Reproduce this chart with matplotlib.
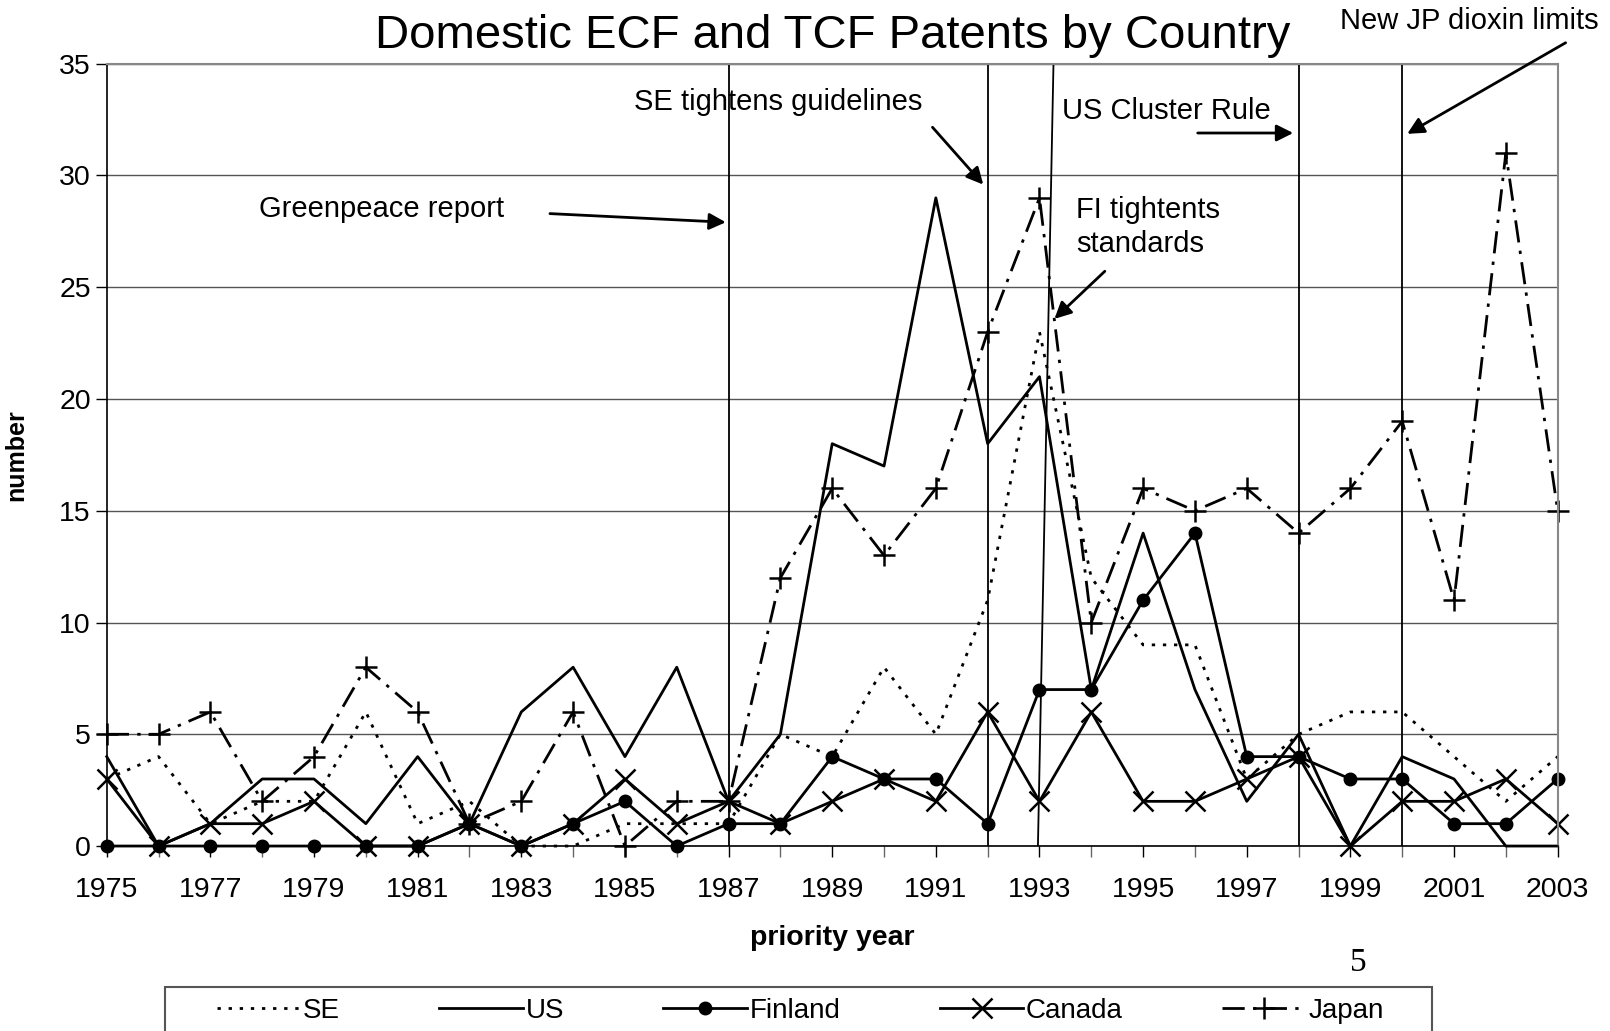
import matplotlib.pyplot as plt
from matplotlib.patches import Rectangle
import numpy as np

plt.rcParams['font.family'] = ['Liberation Sans', 'DejaVu Sans']

years = np.arange(1975, 2004)
se      = [3, 4, 1, 2, 2, 6, 1, 2, 0, 0, 1, 1, 1, 5, 4, 8, 5, 11, 23, 12, 9, 9, 3, 5, 6, 6, 4, 2, 4]
us      = [4, 0, 1, 3, 3, 1, 4, 1, 6, 8, 4, 8, 2, 5, 18, 17, 29, 18, 21, 7, 14, 7, 2, 5, 0, 4, 3, 0, 0]
finland = [0, 0, 0, 0, 0, 0, 0, 1, 0, 1, 2, 0, 1, 1, 4, 3, 3, 1, 7, 7, 11, 14, 4, 4, 3, 3, 1, 1, 3]
canada  = [3, 0, 1, 1, 2, 0, 0, 1, 0, 1, 3, 1, 2, 1, 2, 3, 2, 6, 2, 6, 2, 2, 3, 4, 0, 2, 2, 3, 1]
japan   = [5, 5, 6, 2, 4, 8, 6, 1, 2, 6, 0, 2, 2, 12, 16, 13, 16, 23, 29, 10, 16, 15, 16, 14, 16, 19, 11, 31, 15]

# policy events (vertical lines)
event_years = [1987, 1992, 1998, 2000]
# FI line is drawn a bit slanted in the original
fi_line_x = [1992.97, 1993.27]

fig = plt.figure(figsize=(16.1, 10.31), dpi=100)
ax = fig.add_axes([0.0663, 0.1794, 0.9012, 0.7588])

ax.set_xlim(1975, 2003)
ax.set_ylim(0, 35)
ax.set_yticks(range(0, 36, 5))
ax.set_xticks(range(1975, 2004, 2))
ax.set_xticks(range(1975, 2004), minor=True)
ax.yaxis.grid(True, color='#555555', linewidth=1.0)
ax.set_axisbelow(True)
for s in ['top', 'right']:
    ax.spines[s].set_color('#888888')
    ax.spines[s].set_linewidth(1.5)
ax.spines['left'].set_linewidth(1.2)
ax.spines['bottom'].set_linewidth(1.2)
ax.tick_params(axis='both', labelsize=20.5, direction='out', length=8, width=1)
ax.tick_params(axis='x', which='minor', length=8, width=1, color='#666666')
ax.tick_params(axis='x', pad=14)

lw = 2.0
ax.plot(years, se, color='black', linewidth=lw, linestyle=(0, (1.2, 2.8)), label='SE', clip_on=False)
ax.plot(years, us, color='black', linewidth=lw, label='US', clip_on=False)
ax.plot(years, finland, color='black', linewidth=lw, marker='o', markersize=9, label='Finland', clip_on=False)
ax.plot(years, canada, color='black', linewidth=lw, marker='x', markersize=14, markeredgewidth=1.8,
        label='Canada', clip_on=False)
ax.plot(years, japan, color='black', linewidth=lw, linestyle=(0, (8, 3, 1.2, 3)), marker='+',
        markersize=16, markeredgewidth=1.8, label='Japan', clip_on=False)

for yr in event_years:
    ax.axvline(yr, color='black', linewidth=1.3)
ax.plot(fi_line_x, [0, 35], color='black', linewidth=1.3)

ax.set_title('Domestic ECF and TCF Patents by Country', fontsize=34, pad=11)
ax.set_xlabel('priority year', fontsize=20.5, fontweight='bold', labelpad=16)
ax.set_ylabel('number', fontsize=18, fontweight='bold', labelpad=22)

arrow = dict(arrowstyle='-|>', color='black', linewidth=2, mutation_scale=25)
txt = dict(fontsize=21, ha='center', va='center')
ax.annotate('', xy=(1987.0, 27.9), xytext=(1983.5, 28.3), arrowprops=arrow)
ax.text(1980.3, 28.5, 'Greenpeace report', **txt)
ax.annotate('', xy=(1991.95, 29.5), xytext=(1990.9, 32.25), arrowprops=arrow)
ax.text(1987.95, 33.3, 'SE tightens guidelines', **txt)
ax.annotate('', xy=(1997.95, 31.9), xytext=(1996.0, 31.9), arrowprops=arrow)
ax.text(1995.45, 32.9, 'US Cluster Rule', **txt)
ax.annotate('', xy=(2000.05, 31.8), xytext=(2003.2, 36.0), arrowprops=arrow, annotation_clip=False)
ax.text(2001.3, 36.9, 'New JP dioxin limits', clip_on=False, **txt)
ax.annotate('', xy=(1993.25, 23.5), xytext=(1994.3, 25.8), arrowprops=arrow)
ax.text(1993.7, 27.7, 'FI tightents\nstandards', fontsize=21, ha='left', va='center', linespacing=1.25)

fig.text(0.8435, 0.066, '5', fontsize=24, family='Liberation Serif', ha='center', va='center')

# legend box (runs off the bottom of the page in the original)
fig.patches.append(Rectangle((0.1025, -0.02), 0.787, 0.0627, transform=fig.transFigure,
                             facecolor='none', edgecolor='#555555', linewidth=1.5))
leg = fig.legend(loc='center left', bbox_to_anchor=(0.1346, 0.0194, 0.725, 0.0), mode='expand',
                 ncol=5, fontsize=20, handlelength=3.0, handletextpad=0.1, frameon=False,
                 borderpad=0, borderaxespad=0)

fig.savefig('out.png', dpi=100)
